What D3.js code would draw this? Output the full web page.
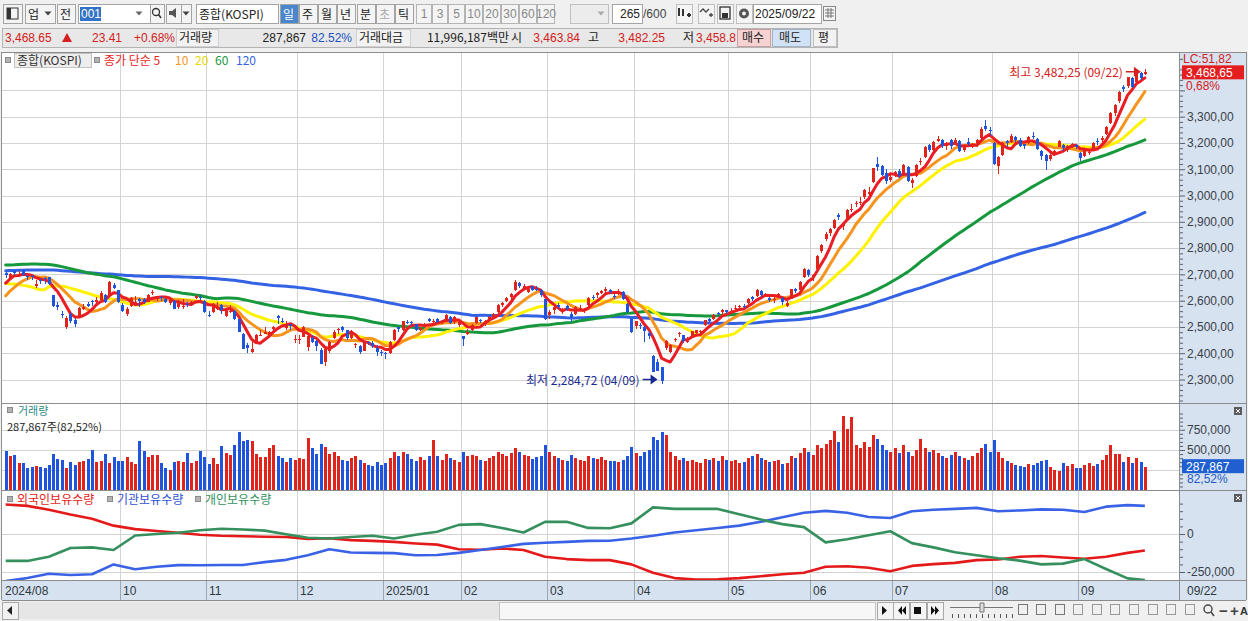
<!DOCTYPE html>
<html>
<head>
<meta charset="utf-8">
<title>종합(KOSPI) 일봉</title>
<style>
body { margin: 0; background: #f0f0f0; overflow: hidden; }
svg { display: block; }
.num { font-family: "Liberation Sans", Arial, sans-serif; font-size: 12px; }
.kr { font-family: "Noto Sans CJK KR", sans-serif; font-size: 12px; }
.kr11 { font-family: "Noto Sans CJK KR", sans-serif; font-size: 11px; }
</style>
</head>
<body>
<svg id="chart" width="1248" height="621"></svg>
<script src="https://cdn.jsdelivr.net/npm/d3@7/dist/d3.min.js"></script>
<script>
// ---- data (daily bars, 2024/08/20 .. 2025/09/22) ----
var monthLabels = ['2024/08', '09', '10', '11', '12', '2025/01', '02', '03', '04', '05', '06', '07', '08', '09'];
var monthBars = [9, 18, 20, 21, 20, 18, 20, 20, 22, 19, 19, 23, 20, 16];
var lastDate = '09/22';
var hiDate = '09/22', loDate = '04/09';

// closes before the visible window, only used to seed the 60/120 averages
var warmupClose = [2642, 2667, 2650, 2642,
  2642, 2674, 2649, 2641, 2647, 2680, 2657, 2693, 2718, 2666, 2685, 2656, 2690, 2754, 2748, 2737, 2757, 2755, 2745, 2746,
  2747, 2753, 2706, 2742, 2714, 2717, 2705, 2706, 2681, 2670, 2609, 2584, 2634, 2591, 2629, 2675, 2628, 2656, 2656, 2687, 2692,
  2683, 2676, 2734, 2745, 2712, 2728, 2727, 2730, 2753, 2724, 2742, 2723, 2721, 2687, 2722, 2722, 2677, 2635, 2636, 2656,
  2682, 2662, 2689, 2722, 2701, 2705, 2728, 2754, 2758, 2744, 2763, 2797, 2807, 2804, 2764, 2774, 2792, 2784, 2797,
  2780, 2794, 2824, 2824, 2862, 2857, 2867, 2867, 2891, 2824, 2857, 2867, 2843, 2797, 2763, 2774, 2759, 2710, 2731, 2765, 2738, 2770, 2770,
  2777, 2676, 2441, 2522, 2568, 2556, 2588, 2618, 2621, 2644, 2697, 2674];

var opens = [2705, 2688, 2712, 2696, 2716, 2694, 2692, 2655, 2680,
  2688, 2689, 2620, 2585, 2550, 2500, 2548, 2525, 2540, 2570, 2586, 2598, 2596, 2602, 2623, 2620, 2661, 2641,
  2583, 2548, 2580, 2590, 2606, 2605, 2596, 2628, 2605, 2614, 2605, 2592, 2600, 2575, 2575, 2586, 2582, 2609, 2614, 2600,
  2545, 2558, 2570, 2584, 2543, 2555, 2560, 2530, 2475, 2430, 2405, 2443, 2468, 2475, 2470, 2492, 2540, 2522, 2495, 2510, 2450,
  2450, 2463, 2425, 2458, 2448, 2412, 2368, 2409, 2458, 2489, 2498, 2488, 2458, 2432, 2426, 2409, 2443, 2438, 2418, 2405,
  2400, 2399, 2451, 2498, 2488, 2520, 2517, 2511, 2487, 2500, 2531, 2517, 2530, 2516, 2520, 2537, 2518, 2506,
  2466, 2473, 2487, 2515, 2528, 2510, 2522, 2539, 2556, 2583, 2599, 2613, 2640, 2666, 2649, 2632, 2654, 2643, 2640, 2605,
  2545, 2563, 2585, 2556, 2580, 2549, 2550, 2570, 2561, 2583, 2614, 2621, 2628, 2635, 2641, 2618, 2627, 2634, 2589, 2529,
  2502, 2506, 2500, 2477, 2391, 2366, 2346, 2420, 2406, 2450, 2474, 2468, 2443, 2462, 2478, 2479, 2507, 2530, 2532, 2552, 2555, 2564,
  2558, 2571, 2574, 2581, 2590, 2613, 2617, 2637, 2623, 2610, 2605, 2617, 2611, 2581, 2607, 2645, 2640, 2690, 2718,
  2695, 2720, 2789, 2836, 2856, 2878, 2927, 2883, 2907, 2944, 2967, 2972, 2993, 3006, 3050, 3120, 3111, 3087, 3058,
  3080, 3094, 3076, 3110, 3047, 3073, 3128, 3145, 3191, 3172, 3207, 3212, 3187, 3212, 3195, 3207, 3173, 3205, 3186, 3200, 3219, 3264, 3250,
  3200, 3112, 3154, 3208, 3204, 3222, 3213, 3195, 3200, 3227, 3215, 3170, 3155, 3138, 3160, 3186, 3193, 3173, 3188, 3193,
  3162, 3150, 3160, 3176, 3209, 3213, 3235, 3275, 3313, 3358, 3412, 3417, 3448, 3433, 3468, 3463.84];

var highs = [2710, 2707, 2717, 2712, 2720, 2697, 2698, 2680, 2686,
  2690, 2690, 2622, 2596, 2560, 2540, 2555, 2533, 2577, 2587, 2595, 2603, 2615, 2635, 2625, 2675, 2669, 2642,
  2591, 2575, 2614, 2616, 2609, 2609, 2626, 2640, 2617, 2618, 2609, 2608, 2602, 2603, 2606, 2593, 2597, 2623, 2620, 2601,
  2561, 2592, 2594, 2588, 2568, 2584, 2566, 2531, 2477, 2437, 2446, 2474, 2488, 2499, 2485, 2503, 2545, 2533, 2523, 2512, 2470,
  2468, 2504, 2470, 2469, 2452, 2418, 2425, 2446, 2487, 2497, 2503, 2490, 2488, 2440, 2433, 2446, 2448, 2448, 2430, 2414,
  2406, 2446, 2492, 2501, 2524, 2528, 2522, 2512, 2500, 2516, 2535, 2530, 2534, 2527, 2551, 2541, 2543, 2530,
  2467, 2491, 2512, 2539, 2531, 2528, 2543, 2552, 2587, 2596, 2614, 2629, 2677, 2670, 2663, 2653, 2657, 2655, 2643, 2606,
  2566, 2582, 2592, 2571, 2582, 2555, 2579, 2583, 2572, 2614, 2620, 2633, 2642, 2652, 2644, 2627, 2645, 2637, 2590, 2530,
  2524, 2516, 2503, 2485, 2395, 2379, 2348, 2450, 2436, 2458, 2481, 2471, 2460, 2485, 2490, 2489, 2528, 2535, 2550, 2557, 2570, 2566,
  2572, 2583, 2582, 2587, 2611, 2617, 2644, 2641, 2631, 2615, 2612, 2630, 2612, 2600, 2646, 2650, 2675, 2723, 2720,
  2703, 2774, 2815, 2860, 2878, 2909, 2934, 2898, 2948, 2968, 2981, 2994, 3025, 3032, 3105, 3145, 3115, 3101, 3082,
  3095, 3101, 3120, 3112, 3068, 3118, 3143, 3190, 3195, 3208, 3225, 3216, 3203, 3215, 3217, 3212, 3194, 3219, 3200, 3215, 3260, 3288, 3262,
  3202, 3150, 3203, 3212, 3233, 3228, 3218, 3197, 3227, 3240, 3219, 3172, 3158, 3160, 3172, 3212, 3196, 3192, 3201, 3195,
  3167, 3178, 3174, 3204, 3217, 3226, 3263, 3317, 3348, 3396, 3419, 3450, 3451, 3467, 3469, 3482.25];

var lows = [2688, 2680, 2697, 2693, 2693, 2679, 2680, 2650, 2665,
  2662, 2660, 2575, 2565, 2535, 2491, 2516, 2500, 2536, 2564, 2575, 2578, 2590, 2600, 2590, 2618, 2645, 2590,
  2556, 2540, 2576, 2585, 2574, 2587, 2594, 2620, 2600, 2600, 2590, 2585, 2567, 2569, 2570, 2574, 2580, 2607, 2602, 2553,
  2536, 2552, 2566, 2548, 2537, 2552, 2528, 2480, 2416, 2400, 2400, 2442, 2465, 2472, 2465, 2488, 2512, 2516, 2490, 2488, 2440,
  2436, 2462, 2410, 2437, 2410, 2360, 2351, 2400, 2455, 2475, 2480, 2452, 2455, 2420, 2397, 2407, 2430, 2420, 2389, 2389,
  2377, 2396, 2446, 2480, 2485, 2510, 2505, 2484, 2483, 2495, 2518, 2512, 2515, 2510, 2518, 2511, 2512, 2500,
  2428, 2468, 2485, 2512, 2515, 2505, 2519, 2533, 2552, 2577, 2596, 2608, 2635, 2650, 2643, 2628, 2635, 2636, 2615, 2527,
  2530, 2551, 2567, 2548, 2560, 2517, 2547, 2566, 2552, 2580, 2603, 2610, 2624, 2630, 2625, 2605, 2620, 2602, 2553, 2478,
  2494, 2492, 2442, 2453, 2328, 2334, 2284.72, 2411, 2402, 2443, 2460, 2440, 2440, 2458, 2473, 2472, 2503, 2516, 2525, 2540, 2550, 2548,
  2548, 2561, 2565, 2571, 2588, 2597, 2613, 2615, 2612, 2594, 2590, 2610, 2585, 2575, 2605, 2630, 2636, 2686, 2690,
  2675, 2714, 2780, 2827, 2847, 2871, 2906, 2867, 2903, 2938, 2958, 2964, 2987, 2999, 3047, 3093, 3074, 3045, 3053,
  3069, 3065, 3073, 3050, 3030, 3070, 3116, 3143, 3166, 3167, 3202, 3181, 3175, 3178, 3193, 3164, 3167, 3190, 3180, 3186, 3215, 3245, 3225,
  3116, 3080, 3150, 3185, 3200, 3205, 3185, 3176, 3195, 3215, 3172, 3137, 3097, 3132, 3151, 3183, 3170, 3167, 3180, 3178,
  3130, 3145, 3153, 3172, 3194, 3204, 3230, 3272, 3302, 3353, 3392, 3408, 3408, 3427, 3439, 3458.8];

var closes = [2696, 2701, 2707, 2701, 2698, 2689, 2689, 2662, 2674,
  2681, 2664, 2580, 2576, 2544, 2535, 2523, 2513, 2572, 2575, 2580, 2593, 2602, 2631, 2596, 2671, 2649, 2593,
  2561, 2569, 2610, 2594, 2599, 2596, 2623, 2633, 2610, 2609, 2593, 2604, 2570, 2599, 2581, 2583, 2593, 2617, 2612, 2556,
  2542, 2588, 2576, 2563, 2564, 2561, 2531, 2482, 2417, 2418, 2416, 2469, 2471, 2482, 2480, 2501, 2534, 2520, 2503, 2504, 2455,
  2453, 2500, 2464, 2442, 2428, 2360, 2417, 2442, 2482, 2494, 2488, 2456, 2484, 2435, 2404, 2442, 2440, 2429, 2404, 2399,
  2398, 2441, 2488, 2492, 2521, 2515, 2515, 2489, 2497, 2513, 2523, 2523, 2520, 2518, 2547, 2515, 2536, 2517,
  2453, 2481, 2509, 2536, 2522, 2521, 2539, 2548, 2583, 2591, 2610, 2626, 2671, 2654, 2654, 2645, 2641, 2641, 2621, 2532,
  2558, 2576, 2576, 2563, 2570, 2537, 2574, 2572, 2566, 2610, 2612, 2628, 2637, 2643, 2632, 2617, 2628, 2607, 2557, 2481,
  2521, 2505, 2486, 2465, 2328, 2334, 2293, 2445, 2432, 2455, 2477, 2447, 2447, 2483, 2488, 2486, 2525, 2522, 2546, 2548, 2565, 2556,
  2559, 2573, 2578, 2577, 2607, 2608, 2640, 2621, 2626, 2603, 2608, 2625, 2593, 2592, 2644, 2637, 2670, 2720, 2697,
  2698, 2770, 2812, 2855, 2871, 2907, 2920, 2894, 2946, 2950, 2972, 2977, 3021, 3014, 3103, 3108, 3079, 3055, 3071,
  3089, 3075, 3116, 3054, 3059, 3115, 3133, 3183, 3175, 3202, 3215, 3190, 3192, 3188, 3210, 3169, 3183, 3196, 3196, 3210, 3254, 3254, 3245,
  3119, 3147, 3199, 3198, 3227, 3210, 3189, 3189, 3224, 3225, 3178, 3151, 3130, 3154, 3168, 3209, 3179, 3187, 3196, 3186,
  3142, 3172, 3164, 3200, 3205, 3219, 3261, 3314, 3344, 3395, 3407, 3449, 3413, 3461, 3445.24, 3468.65];

var volumes = [488000, 426000, 438000, 335000, 335000, 281000, 294000, 302000, 294000,
  281000, 315000, 447000, 385000, 377000, 281000, 348000, 315000, 356000, 364000, 389000, 500000, 356000, 364000, 447000, 344000, 417000, 364000,
  364000, 417000, 356000, 323000, 615000, 488000, 417000, 438000, 438000, 335000, 281000, 253000, 356000, 364000, 356000, 459000, 344000, 364000, 488000, 417000,
  327000, 397000, 327000, 553000, 459000, 438000, 562000, 726000, 615000, 621000, 611000, 447000, 417000, 417000, 521000, 562000, 430000, 405000, 356000, 397000, 377000,
  400000, 390000, 650000, 520000, 450000, 580000, 540000, 450000, 480000, 420000, 380000, 360000, 400000, 420000, 380000, 340000, 320000, 300000, 350000, 320000,
  340000, 400000, 470000, 420000, 480000, 450000, 390000, 370000, 410000, 380000, 430000, 620000, 420000, 380000, 450000, 400000, 380000, 350000,
  480000, 420000, 440000, 430000, 380000, 360000, 400000, 420000, 470000, 450000, 430000, 460000, 530000, 480000, 440000, 420000, 390000, 410000, 420000, 560000,
  470000, 420000, 400000, 380000, 370000, 440000, 400000, 380000, 360000, 420000, 400000, 390000, 410000, 380000, 360000, 370000, 350000, 380000, 430000, 540000,
  460000, 420000, 470000, 500000, 660000, 620000, 720000, 690000, 480000, 420000, 380000, 400000, 360000, 380000, 350000, 340000, 390000, 380000, 400000, 370000, 420000, 380000,
  360000, 380000, 340000, 350000, 400000, 420000, 450000, 400000, 380000, 350000, 360000, 380000, 330000, 340000, 420000, 400000, 460000, 520000, 480000,
  440000, 560000, 520000, 580000, 620000, 740000, 600000, 920000, 760000, 910000, 560000, 520000, 600000, 540000, 680000, 640000, 560000, 500000, 480000,
  520000, 460000, 560000, 480000, 420000, 500000, 640000, 520000, 480000, 500000, 460000, 420000, 400000, 440000, 480000, 420000, 400000, 380000, 420000, 460000, 520000, 580000, 480000,
  620000, 480000, 400000, 360000, 340000, 320000, 300000, 290000, 330000, 310000, 340000, 360000, 380000, 286000, 253000, 241000, 336000, 302000, 323000, 274000,
  282000, 315000, 336000, 302000, 327000, 377000, 438000, 562000, 451000, 451000, 356000, 410000, 343000, 397000, 348845, 287867];
var volumeRatio = '82,52%';

// investor holdings, read every 5th bar
var holdIdx = [0, 5, 10, 15, 20, 25, 30, 35, 40, 45, 50, 55, 60, 65, 70, 75, 80, 85, 90, 95, 100, 105, 110, 115, 120, 125,
  130, 135, 140, 145, 150, 155, 160, 165, 170, 175, 180, 185, 190, 195, 200, 205, 210, 215, 220, 225, 230, 235, 240, 245,
  250, 255, 260, 264];
var foreignHold = [194000, 185000, 160000, 128000, 100000, 55000, 32000, 20000, 8000, -5000,
  -12000, -15000, -18000, -20000, -32000, -28000, -40000, -45000, -52000, -62000,
  -70000, -100000, -104000, -95000, -105000, -150000, -165000, -172000, -172000, -200000,
  -255000, -290000, -300000, -298000, -290000, -278000, -265000, -255000, -215000, -212000,
  -222000, -245000, -210000, -198000, -190000, -172000, -168000, -150000, -145000, -155000,
  -163000, -150000, -124000, -108000];
var instHold = [-310000, -290000, -262000, -270000, -265000, -200000, -232000, -215000, -205000, -206000,
  -204000, -204000, -185000, -170000, -140000, -100000, -122000, -124000, -126000, -140000,
  -138000, -124000, -105000, -85000, -65000, -58000, -52000, -45000, -44000, -30000,
  -12000, 10000, 25000, 40000, 55000, 80000, 110000, 140000, 152000, 140000,
  112000, 105000, 150000, 160000, 165000, 172000, 150000, 155000, 162000, 160000,
  145000, 180000, 190000, 185000];
var indivHold = [-177000, -177000, -150000, -92000, -88000, -105000, -10000, 0, 8000, 25000,
  35000, 30000, 22000, -2000, -25000, -30000, -20000, -12000, -30000, -5000,
  15000, 60000, 65000, 40000, 10000, 80000, 80000, 40000, 38000, 70000,
  175000, 165000, 165000, 165000, 130000, 95000, 65000, 45000, -55000, -35000,
  -8000, 18000, -60000, -88000, -120000, -140000, -160000, -175000, -200000, -195000,
  -165000, -230000, -292000, -303000];

var priceTicks = [2300, 2400, 2500, 2600, 2700, 2800, 2900, 3000, 3100, 3200, 3300, 3400];
var volTicks = [250000, 500000, 750000];
var volLabels = [500000, 750000];
var holdTicks = [0, -250000];
var maPeriods = [120, 60, 20, 10, 5];
var maColors = { 5: '#ea1c24', 10: '#f7941d', 20: '#fff200', 60: '#16983c', 120: '#3462e4' };
var lc = 'LC:51,82';
var changePct = '0,68%';

// ---- layout ----
var n = closes.length;
var step = 4.315;
var mainTop = 52, mainBot = 403, volBot = 490, holdBot = 580, axisBot = 600;
var plotL = 2, plotR = 1179;
var UP = '#e0241c', DOWN = '#1f55dc';

var x = d3.scaleLinear().domain([0, n - 1]).range([5.7, 5.7 + (n - 1) * step]);
var y = d3.scaleLinear().domain([2210.6, 3546]).range([mainBot, mainTop]);
var yVol = d3.scaleLinear().domain([0, 1000000]).range([490.5, 409.5]);
var yHold = d3.scaleLinear().domain([-250000, 0]).range([572, 534]);

var kr = d3.formatLocale({ decimal: ',', thousands: ',', grouping: [3], currency: ['', ''] });
var fmtPrice = kr.format(',.2f');
var fmtInt = d3.format(',');
function fmtSigned(v) { return v < 0 ? '-' + fmtInt(-v) : fmtInt(v); }

var svg = d3.select('#chart');
svg.append('rect').attr('width', 1248).attr('height', 621).attr('fill', '#f0f0f0');
svg.append('rect').attr('x', plotL).attr('y', mainTop).attr('width', plotR - plotL).attr('height', holdBot - mainTop).attr('fill', '#fff');
svg.append('rect').attr('x', 1180).attr('y', mainTop).attr('width', 66).attr('height', axisBot - mainTop).attr('fill', '#d6e2f0');
svg.append('rect').attr('x', plotL).attr('y', holdBot).attr('width', plotR - plotL).attr('height', axisBot - holdBot).attr('fill', '#d6e2f0');

var defs = svg.append('defs');
defs.append('clipPath').attr('id', 'clipMain').append('rect').attr('x', plotL).attr('y', mainTop).attr('width', plotR - plotL).attr('height', mainBot - mainTop);
defs.append('clipPath').attr('id', 'clipHold').append('rect').attr('x', plotL).attr('y', volBot).attr('width', plotR - plotL).attr('height', holdBot - volBot);

// month positions
var monthStart = [], acc = 0;
monthBars.forEach(function(b) { monthStart.push(acc); acc += b; });
var shownMonths = [], lastX = -1000;
monthStart.forEach(function(s, k) {
  var gx = x(s) - step / 2;
  if (gx - lastX > 50) { shownMonths.push({ x: gx, label: monthLabels[k], first: k === 0 }); lastX = gx; }
});

// ---- grid ----
var grid = svg.append('g').attr('stroke', '#d3d3d3').attr('shape-rendering', 'crispEdges');
function hline(g, yy, x1, x2) { g.append('line').attr('x1', x1).attr('x2', x2).attr('y1', Math.round(yy) + 0.5).attr('y2', Math.round(yy) + 0.5); }
priceTicks.forEach(function(p) { hline(grid, y(p), plotL, plotR); });
volTicks.forEach(function(v) { hline(grid, yVol(v), plotL, plotR); });
holdTicks.forEach(function(v) { hline(grid, yHold(v), plotL, plotR); });
shownMonths.forEach(function(m) {
  if (m.first) return;
  var gx = Math.round(m.x) + 0.5;
  grid.append('line').attr('x1', gx).attr('x2', gx).attr('y1', mainTop).attr('y2', holdBot);
  svg.append('line').attr('x1', gx).attr('x2', gx).attr('y1', holdBot).attr('y2', axisBot)
    .attr('stroke', '#9aa7b8').attr('shape-rendering', 'crispEdges');
});

// ---- moving averages ----
var all = warmupClose.concat(closes), off = warmupClose.length;
function movingAvg(p) {
  return closes.map(function(c, i) { return d3.mean(all.slice(off + i - p + 1, off + i + 1)); });
}
var maG = svg.append('g').attr('clip-path', 'url(#clipMain)');
maPeriods.forEach(function(p) {
  var vals = movingAvg(p);
  maG.append('path')
    .attr('d', d3.line().x(function(d, i) { return x(i); }).y(function(d) { return y(d); })(vals))
    .attr('fill', 'none').attr('stroke', maColors[p]).attr('stroke-width', 3)
    .attr('stroke-linejoin', 'round').attr('stroke-linecap', 'round');
});

// ---- candles ----
var candleG = svg.append('g').attr('clip-path', 'url(#clipMain)').attr('shape-rendering', 'crispEdges');
var bars = candleG.selectAll('g').data(closes).enter().append('g');
bars.append('line')
  .attr('x1', function(d, i) { return Math.round(x(i)) + 0.5; })
  .attr('x2', function(d, i) { return Math.round(x(i)) + 0.5; })
  .attr('y1', function(d, i) { return y(highs[i]); })
  .attr('y2', function(d, i) { return y(lows[i]); })
  .attr('stroke', function(d, i) { return d >= opens[i] ? UP : DOWN; });
bars.append('rect')
  .attr('x', function(d, i) { return Math.round(x(i)) - 1; })
  .attr('width', 3)
  .attr('y', function(d, i) { return y(Math.max(d, opens[i])); })
  .attr('height', function(d, i) { return Math.max(1, Math.abs(y(d) - y(opens[i]))); })
  .attr('fill', function(d, i) { return d >= opens[i] ? UP : DOWN; });

// ---- volume ----
svg.append('g').attr('shape-rendering', 'crispEdges').selectAll('rect').data(volumes).enter().append('rect')
  .attr('x', function(d, i) { return Math.round(x(i)) - 1; })
  .attr('width', 3)
  .attr('y', function(d) { return yVol(d); })
  .attr('height', function(d) { return yVol(0) - yVol(d); })
  .attr('fill', function(d, i) { return closes[i] >= opens[i] ? UP : DOWN; });

// ---- investor holdings ----
var holdG = svg.append('g').attr('clip-path', 'url(#clipHold)');
[[foreignHold, '#e41a1a'], [instHold, '#3a62e6'], [indivHold, '#35905e']].forEach(function(s) {
  holdG.append('path')
    .attr('d', d3.line().x(function(d, k) { return x(holdIdx[k]); }).y(function(d) { return yHold(d); })(s[0]))
    .attr('fill', 'none').attr('stroke', s[1]).attr('stroke-width', 2.6).attr('stroke-linejoin', 'round');
});

// ---- panel borders ----
var border = svg.append('g').attr('stroke', '#8c8c8c').attr('shape-rendering', 'crispEdges');
[mainTop, mainBot, volBot, holdBot, axisBot].forEach(function(yy) { hline(border, yy, plotL, 1246); });
[plotL - 0.5, plotR + 0.5, 1246.5].forEach(function(xx) {
  border.append('line').attr('x1', xx).attr('x2', xx).attr('y1', mainTop).attr('y2', axisBot);
});

// ---- axes ----
var last = n - 1;
var ly = y(closes[last]);
function styleAxis(g) {
  g.attr('font-size', null).attr('font-family', null);
  g.select('.domain').remove();
  g.selectAll('line').attr('stroke', '#55606e');
  g.selectAll('text').attr('class', 'num').attr('fill', '#3a4048');
}
function minorTicks(scale, vals, len) {
  var g = svg.append('g').attr('transform', 'translate(1180,0)')
    .call(d3.axisRight(scale).tickValues(vals).tickSize(len).tickFormat(''));
  styleAxis(g);
}
// labels that sit under the current-price marker are hidden, as on the terminal
var pAxis = svg.append('g').attr('transform', 'translate(1180,0)')
  .call(d3.axisRight(y).tickValues(priceTicks).tickSize(5).tickPadding(2)
    .tickFormat(function(p) { return Math.abs(y(p) - ly) < 24 ? '' : fmtPrice(p); }));
styleAxis(pAxis);
minorTicks(y, d3.range(2220, 3540, 20).filter(function(v) { return v % 100; }), 3);

var vAxis = svg.append('g').attr('transform', 'translate(1180,0)')
  .call(d3.axisRight(yVol).tickValues(volLabels).tickSize(5).tickPadding(2).tickFormat(fmtInt));
styleAxis(vAxis);
minorTicks(yVol, d3.range(50000, 1000000, 50000).filter(function(v) { return v % 250000; }), 3);

var hAxis = svg.append('g').attr('transform', 'translate(1180,0)')
  .call(d3.axisRight(yHold).tickValues(holdTicks).tickSize(5).tickPadding(2).tickFormat(fmtSigned));
styleAxis(hAxis);
minorTicks(yHold, d3.range(-300000, 350000, 50000).filter(function(v) { return v % 250000 && yHold(v) > volBot + 3 && yHold(v) < holdBot - 2; }), 3);

// x axis labels
shownMonths.forEach(function(m) {
  svg.append('text').attr('class', 'num').attr('x', m.first ? 5 : Math.round(m.x) + 3).attr('y', 595)
    .attr('fill', '#303840').text(m.label);
});
svg.append('text').attr('class', 'num').attr('x', 1187).attr('y', 595).attr('fill', '#303840').text(lastDate);

// ---- helpers ----
function t(x0, y0, s, color, cls, anchor) {
  return svg.append('text').attr('x', x0).attr('y', y0).attr('class', cls || 'num')
    .attr('fill', color || '#222').attr('text-anchor', anchor || 'start').text(s);
}
function box(x0, y0, w, h, fill, stroke) {
  return svg.append('rect').attr('x', x0 + 0.5).attr('y', y0 + 0.5).attr('width', w).attr('height', h)
    .attr('fill', fill).attr('stroke', stroke || '#a4a4a4');
}
function legendSq(x0, y0) { box(x0, y0, 5, 5, '#b4b4b4', '#8a8a8a'); }
function downTri(cx, cy, c) {
  svg.append('path').attr('d', 'M' + (cx - 3.5) + ',' + (cy - 1.5) + 'h7l-3.5,4z').attr('fill', c || '#444');
}
function arrow(x1, x2, yy, c) {
  svg.append('line').attr('x1', x1).attr('x2', x2 - 5).attr('y1', yy).attr('y2', yy).attr('stroke', c).attr('stroke-width', 1.5);
  svg.append('path').attr('d', 'M' + (x2 - 7) + ',' + (yy - 5) + 'L' + x2 + ',' + yy + 'L' + (x2 - 7) + ',' + (yy + 5) + 'z').attr('fill', c);
}

// ---- right-side price labels ----
t(1183, 63, lc, '#d42020');
svg.append('rect').attr('x', 1182).attr('y', ly - 7).attr('width', 62).attr('height', 14).attr('fill', '#e41e1e');
t(1186, ly + 5, fmtPrice(closes[last]), '#fff');
t(1186, ly + 18, changePct, '#d42020');

// volume value box
var vy = yVol(volumes[last]);
svg.append('rect').attr('x', 1182).attr('y', vy - 8).attr('width', 62).attr('height', 14).attr('fill', '#1f5fcf');
t(1186, vy + 4, fmtInt(volumes[last]), '#fff');
t(1187, vy + 16, volumeRatio, '#2458c8');

// ---- annotations ----
var hiIdx = d3.maxIndex(highs), loIdx = d3.minIndex(lows);
var hx = x(hiIdx) - 4, hy = y(highs[hiIdx]) + 3;
arrow(hx - 15, hx, hy, '#d42020');
t(hx - 18, hy + 5, '최고 ' + fmtPrice(highs[hiIdx]) + ' (' + hiDate + ')', '#d42020', 'kr', 'end');
var lx = x(loIdx) - 4, lyy = y(lows[loIdx]) - 4;
arrow(lx - 15, lx, lyy, '#1a2a90');
t(lx - 18, lyy + 5, '최저 ' + fmtPrice(lows[loIdx]) + ' (' + loDate + ')', '#1a2a90', 'kr', 'end');

// ---- panel legends ----
legendSq(5, 57);
box(14, 53, 77, 14, '#ededed', '#c4c4c4');
t(17, 65, '종합(KOSPI)', '#333', 'kr');
legendSq(94, 57);
t(104, 65, '종가 단순 5', maColors[5], 'kr');
t(175, 65, '10', maColors[10], 'kr');
t(195, 65, '20', '#e6d800', 'kr');
t(215, 65, '60', maColors[60], 'kr');
t(236, 65, '120', maColors[120], 'kr');

legendSq(7, 407);
t(18, 415, '거래량', '#2e8c8c', 'kr11');
t(7, 431, fmtInt(volumes[last]) + '주(' + volumeRatio + ')', '#222', 'kr11');

legendSq(7, 496);
t(17, 504, '외국인보유수량', '#e41a1a', 'kr');
legendSq(107, 496);
t(117, 504, '기관보유수량', '#3050d0', 'kr');
legendSq(195, 496);
t(205, 504, '개인보유수량', '#35905e', 'kr');

[407, 494].forEach(function(yy) {
  svg.append('rect').attr('x', 1234).attr('y', yy).attr('width', 8).attr('height', 8).attr('fill', '#5a5a5a');
  svg.append('path').attr('d', 'M1236,' + (yy + 2) + 'l4,4M1240,' + (yy + 2) + 'l-4,4').attr('stroke', '#fff').attr('stroke-width', 1);
});

// ---- toolbar row 1 ----
box(3, 4, 19, 19, '#f4f4f4');
svg.append('rect').attr('x', 7).attr('y', 8).attr('width', 11).attr('height', 11).attr('fill', 'none').attr('stroke', '#333');
svg.append('rect').attr('x', 7).attr('y', 8).attr('width', 4).attr('height', 11).attr('fill', '#333');
box(25, 4, 30, 19, '#f4f4f4');
t(28, 19, '업', '#222', 'kr');
downTri(48, 13);
box(57, 4, 18, 19, '#f4f4f4');
t(60, 19, '전', '#222', 'kr');
box(78, 4, 72, 19, '#fff');
svg.append('rect').attr('x', 80).attr('y', 7).attr('width', 21).attr('height', 14).attr('fill', '#3272c8');
t(81, 18, '001', '#fff');
downTri(139, 13, '#666');
box(150, 4, 14, 19, '#f4f4f4');
svg.append('circle').attr('cx', 156).attr('cy', 12).attr('r', 3.5).attr('fill', 'none').attr('stroke', '#333').attr('stroke-width', 1.3);
svg.append('line').attr('x1', 158.5).attr('y1', 14.5).attr('x2', 161).attr('y2', 18).attr('stroke', '#333').attr('stroke-width', 1.5);
box(166, 4, 15, 19, '#f4f4f4');
svg.append('path').attr('d', 'M169,11h3l4,-3v10l-4,-3h-3z').attr('fill', '#555');
box(181, 4, 10, 19, '#f4f4f4');
downTri(186, 13);
box(196, 4, 82, 19, '#fff');
t(199, 19, '종합(KOSPI)', '#222', 'kr');

[['일', 280, true], ['주', 299], ['월', 318], ['년', 337], ['분', 357], ['초', 376, false, '#aaa'], ['틱', 395]].forEach(function(b) {
  box(b[1], 4, 18, 19, b[2] ? '#4a86cc' : '#f4f4f4');
  t(b[1] + 3, 19, b[0], b[2] ? '#fff' : (b[3] || '#222'), 'kr');
});
[['1', 416, 15], ['3', 432, 15], ['5', 448, 16], ['10', 465, 17], ['20', 483, 17], ['30', 501, 17], ['60', 519, 17], ['120', 537, 17]].forEach(function(b) {
  box(b[1], 4, b[2], 19, '#f4f4f4', '#b4b4b4');
  t(b[1] + b[2] / 2 + 0.5, 18, b[0], '#888', 'num', 'middle');
});
box(570, 4, 38, 19, '#ececec', '#c0c0c0');
downTri(601, 13, '#aaa');
box(612, 4, 30, 19, '#fff');
t(640, 18, '265', '#222', 'num', 'end');
t(643, 18, '/600', '#444');
[676, 698, 717, 736].forEach(function(bx, k) {
  box(bx, 4, 16, 19, '#f4f4f4', '#c0c0c0');
  if (k === 0) { svg.append('path').attr('d', 'M' + (bx + 3) + ',8v8M' + (bx + 7) + ',9v7M' + (bx + 11) + ',15h4M' + (bx + 13) + ',13v4').attr('stroke', '#333').attr('stroke-width', 2); }
  if (k === 1) { svg.append('path').attr('d', 'M' + (bx + 2) + ',12l3,-3l3,3l3,-3M' + (bx + 11) + ',15h4M' + (bx + 13) + ',13v4').attr('stroke', '#444').attr('fill', 'none').attr('stroke-width', 1.3); }
  if (k === 2) { svg.append('rect').attr('x', bx + 3).attr('y', 7).attr('width', 10).attr('height', 12).attr('fill', 'none').attr('stroke', '#333').attr('stroke-width', 1.3); svg.append('rect').attr('x', bx + 5).attr('y', 13).attr('width', 6).attr('height', 5).attr('fill', '#333'); }
  if (k === 3) { svg.append('circle').attr('cx', bx + 8).attr('cy', 13.5).attr('r', 5).attr('fill', '#555'); svg.append('circle').attr('cx', bx + 8).attr('cy', 13.5).attr('r', 2).attr('fill', '#f4f4f4'); }
});
box(753, 4, 68, 19, '#fff');
t(755, 18, '2025/09/22', '#222');
box(823, 6, 12, 14, '#f4f4f4', '#888');
svg.append('path').attr('d', 'M825,10h9M825,13h9M825,16h9M828,8v10M831,8v10').attr('stroke', '#777');

// ---- toolbar row 2 ----
box(2, 28, 835, 19, '#e8e8e8', '#b4b4b4');
box(176, 29, 42, 17, '#f2f2f2', '#cfcfcf');
box(356, 29, 54, 17, '#f2f2f2', '#cfcfcf');
var RED = '#d42020';
t(5, 42, '3,468.65', RED);
svg.append('path').attr('d', 'M62,42l5,-9l5,9z').attr('fill', RED);
t(122, 42, '23.41', RED, 'num', 'end');
t(175, 42, '+0.68%', RED, 'num', 'end');
t(179, 42, '거래량', '#222', 'kr');
t(306, 42, '287,867', '#222', 'num', 'end');
t(352, 42, '82.52%', '#2050c0', 'num', 'end');
t(359, 42, '거래대금', '#222', 'kr');
t(509, 42, '11,996,187백만', '#222', 'kr', 'end');
t(511, 42, '시', '#222', 'kr');
t(580, 42, '3,463.84', RED, 'num', 'end');
t(588, 42, '고', '#222', 'kr');
t(665, 42, '3,482.25', RED, 'num', 'end');
t(683, 42, '저', '#222', 'kr');
t(736, 42, '3,458.8', RED, 'num', 'end');
box(737, 29, 33, 17, '#f6d2d2', '#c8a0a0');
t(742, 42, '매수', '#222', 'kr');
box(772, 29, 38, 17, '#d2e2f6', '#a0b4c8');
t(779, 42, '매도', '#222', 'kr');
box(813, 29, 23, 17, '#f2f2f2', '#c0c0c0');
t(818, 42, '평', '#222', 'kr');

// ---- scroll / control row ----
box(2, 602, 16, 17, '#f2f2f2', '#a8a8a8');
svg.append('path').attr('d', 'M12,606v9l-5,-4.5z').attr('fill', '#222');
svg.append('rect').attr('x', 19).attr('y', 602).attr('width', 480).attr('height', 17).attr('fill', '#e6e6e6');
box(499, 602, 376, 17, '#f7f7f7', '#c4c4c4');
[[877, 'M882,606v9l5,-4.5z'], [893, 'M902,606v9l-4,-4.5zM906,606v9l-4,-4.5z'], [910, 'M914,607h7v7h-7z'], [927, 'M931,606v9l4,-4.5zM935,606v9l4,-4.5z']].forEach(function(b) {
  box(b[0], 602, 16, 17, '#f4f4f4', '#a8a8a8');
  svg.append('path').attr('d', b[1]).attr('fill', '#111');
});
svg.append('line').attr('x1', 950).attr('x2', 1013).attr('y1', 607.5).attr('y2', 607.5).attr('stroke', '#777');
svg.append('path').attr('d', 'M980,603h4v9h-4z').attr('fill', '#ddd').attr('stroke', '#777');
d3.range(952, 1015, 6).forEach(function(tx) {
  svg.append('line').attr('x1', tx + 0.5).attr('x2', tx + 0.5).attr('y1', 614).attr('y2', 618).attr('stroke', '#555');
});
[1016, 1034, 1053, 1071, 1090, 1108, 1127, 1146, 1164, 1183].forEach(function(ix, k) {
  svg.append('rect').attr('x', ix + 2.5).attr('y', 604.5).attr('width', 9).attr('height', 10)
    .attr('fill', 'none').attr('stroke', k < 3 ? '#777' : '#999');
});
svg.append('circle').attr('cx', 1208).attr('cy', 609).attr('r', 4).attr('fill', 'none').attr('stroke', '#444').attr('stroke-width', 1.4);
svg.append('line').attr('x1', 1211).attr('y1', 612).attr('x2', 1214).attr('y2', 616).attr('stroke', '#444').attr('stroke-width', 1.6);
t(1219, 616, '−', '#444', 'num').style('font-weight', 'bold').style('font-size', '15px');
t(1230, 616, '+', '#444', 'num').style('font-weight', 'bold').style('font-size', '15px');
t(1240, 615, 'A', '#333', 'num').style('font-weight', 'bold').style('font-size', '11px');
</script>
</body>
</html>
